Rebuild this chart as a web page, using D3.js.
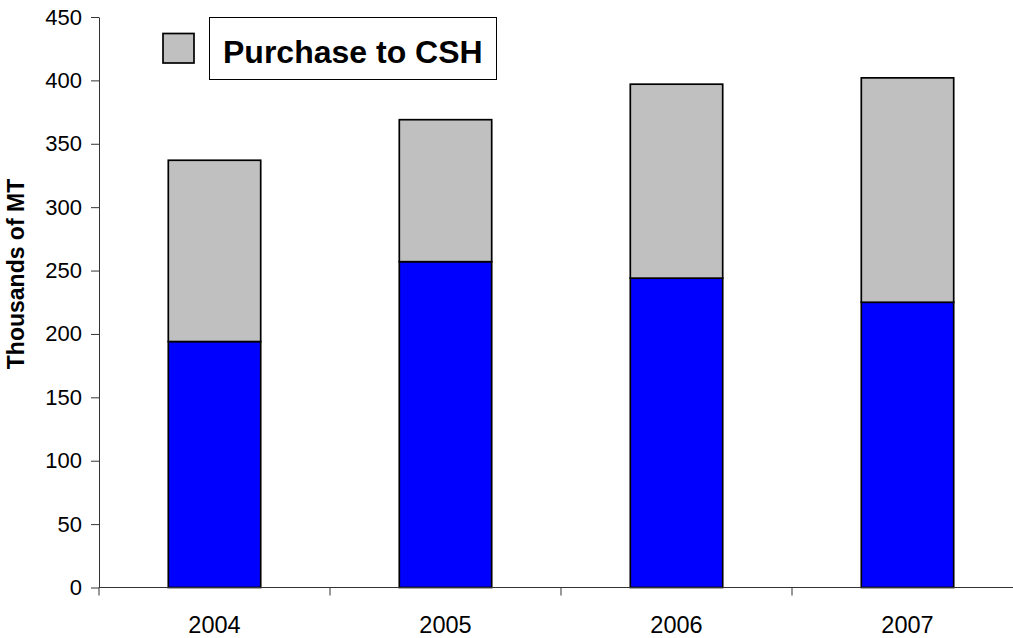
<!DOCTYPE html>
<html>
<head>
<meta charset="utf-8">
<script src="https://cdn.jsdelivr.net/npm/d3@7"></script>
<style>
  html, body { margin: 0; padding: 0; background: #fff; }
  svg { display: block; }
  text { font-family: "Liberation Sans", Arial, sans-serif; }
</style>
</head>
<body>
<svg id="chart" width="1013" height="638"></svg>
<script>
// Annual volumes, thousands of metric tons
const years = ["2004", "2005", "2006", "2007"];
const ownSupply = [194, 257, 244, 225];        // lower (blue) segment
const purchaseToCSH = [143, 112, 153, 177];    // upper (grey) segment
const yTicks = [0, 50, 100, 150, 200, 250, 300, 350, 400, 450];
const legendLabel = "Purchase to CSH";
const yTitle = "Thousands of MT";

const svg = d3.select("#chart");
const plot = { left: 99, right: 1023, top: 17, bottom: 587.5 };

const x = d3.scaleBand().domain(years).range([plot.left, plot.right]).paddingInner(0).paddingOuter(0);
const y = d3.scaleLinear().domain([0, 450]).range([plot.bottom, plot.top]);

const rows = years.map((yr, i) => ({ year: yr, own: ownSupply[i], purchase: purchaseToCSH[i] }));
const layers = d3.stack().keys(["own", "purchase"])(rows);
const fills = { own: "#0000FF", purchase: "#C0C0C0" };

const barW = x.bandwidth() * 0.4;

// Stacked bars
svg.append("g").selectAll("g")
  .data(layers)
  .join("g")
  .attr("fill", d => fills[d.key])
  .selectAll("rect")
  .data(d => d)
  .join("rect")
  .attr("x", d => x(d.data.year) + (x.bandwidth() - barW) / 2)
  .attr("width", barW)
  .attr("y", d => y(d[1]))
  .attr("height", d => y(d[0]) - y(d[1]))
  .attr("stroke", "#000")
  .attr("stroke-width", 1.7);

// Y axis
const yAxis = svg.append("g")
  .attr("transform", `translate(${plot.left},0)`)
  .call(d3.axisLeft(y).tickValues(yTicks).tickSize(8).tickPadding(9).tickSizeOuter(0));
yAxis.select(".domain").attr("stroke", "#333");
yAxis.selectAll(".tick line").attr("stroke", "#333");
yAxis.selectAll(".tick text")
  .attr("font-size", 22)
  .attr("fill", "#000")
  .style("font-family", "'Liberation Sans', Arial, sans-serif");

// X axis with ticks between categories
const xAxis = svg.append("g").attr("transform", `translate(0,${plot.bottom})`);
xAxis.append("line")
  .attr("x1", plot.left).attr("x2", plot.right)
  .attr("stroke", "#333");
xAxis.selectAll("line.sep")
  .data(years)
  .join("line")
  .attr("class", "sep")
  .attr("x1", d => x(d)).attr("x2", d => x(d))
  .attr("y1", 0).attr("y2", 8)
  .attr("stroke", "#333");
xAxis.selectAll("text")
  .data(years)
  .join("text")
  .attr("x", d => x(d) + x.bandwidth() / 2)
  .attr("y", 45)
  .attr("text-anchor", "middle")
  .attr("font-size", 23.5)
  .attr("fill", "#000")
  .text(d => d);

// Y axis title
svg.append("text")
  .attr("transform", `translate(24,274) rotate(-90)`)
  .attr("text-anchor", "middle")
  .attr("font-size", 23)
  .attr("font-weight", "bold")
  .attr("fill", "#000")
  .text(yTitle);

// Legend
const legend = svg.append("g");
legend.append("rect")
  .attr("x", 163).attr("y", 33.5)
  .attr("width", 31).attr("height", 29.5)
  .attr("fill", fills.purchase)
  .attr("stroke", "#000").attr("stroke-width", 1.7);
legend.append("rect")
  .attr("x", 209.5).attr("y", 17.5)
  .attr("width", 287).attr("height", 62)
  .attr("fill", "#fff")
  .attr("stroke", "#000").attr("stroke-width", 1);
legend.append("text")
  .attr("x", 223).attr("y", 63)
  .attr("font-size", 32)
  .attr("font-weight", "bold")
  .attr("fill", "#000")
  .text(legendLabel);
</script>
</body>
</html>
